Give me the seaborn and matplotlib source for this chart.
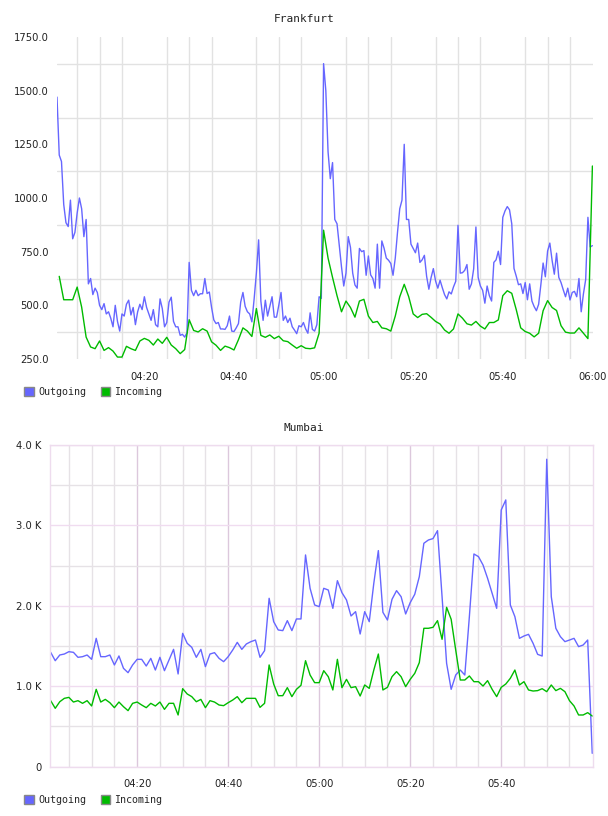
import pandas as pd
import matplotlib
matplotlib.use("Agg")
import matplotlib.pyplot as plt
import matplotlib.dates as mdates
from matplotlib.patches import Patch
from matplotlib.ticker import FixedLocator, NullFormatter
import seaborn as sns

# Frankfurt: outgoing every 30 s, incoming every minute
fra_out = [
    1470, 1200, 1170, 970, 885, 867, 990, 810, 840, 930, 1000, 950, 820, 900, 600, 625,
    550, 580, 560, 500, 480, 508, 460, 470, 440, 400, 500, 425, 380, 460, 450, 505,
    524, 455, 490, 410, 470, 505, 480, 540, 490, 460, 430, 480, 410, 400, 530, 485,
    400, 420, 515, 538, 425, 400, 400, 360, 365, 352, 372, 700, 570, 545, 570, 545,
    554, 554, 625, 555, 562, 490, 432, 415, 420, 390, 390, 388, 405, 450, 380, 378,
    395, 415, 515, 560, 495, 470, 460, 423, 530, 650, 805, 520, 430, 524, 450, 495,
    540, 445, 445, 500, 560, 430, 450, 420, 440, 400, 385, 368, 405, 400, 420, 390,
    370, 465, 388, 380, 410, 540, 532, 1626, 1500, 1215, 1090, 1165, 900, 880, 780, 679,
    590, 650, 820, 770, 650, 595, 580, 765, 750, 755, 640, 730, 642, 625, 580, 785,
    580, 800, 766, 720, 710, 695, 640, 720, 840, 950, 990, 1250, 900, 900, 785, 765,
    745, 790, 700, 712, 733, 635, 575, 630, 671, 613, 580, 617, 582, 550, 530, 563,
    553, 586, 612, 873, 650, 652, 663, 690, 575, 600, 670, 865, 630, 590, 570, 510,
    590, 545, 520, 700, 712, 752, 690, 910, 940, 960, 945, 880, 672, 636, 596, 600,
    555, 606, 526, 600, 520, 494, 475, 505, 597, 697, 633, 753, 790, 710, 645, 743,
    630, 606, 572, 540, 580, 525, 560, 565, 540, 625, 470, 554, 620, 910, 772, 778,
]
fra_in = [
    635, 526, 526, 526, 585, 492, 352, 306, 298, 334, 290, 303, 287, 259, 259, 309,
    298, 290, 334, 346, 337, 315, 343, 323, 351, 315, 298, 275, 294, 433, 383, 376,
    391, 380, 330, 314, 290, 310, 303, 292, 340, 395, 380, 355, 485, 360, 351, 362,
    345, 356, 335, 331, 315, 300, 312, 300, 298, 302, 370, 850, 720, 630, 545, 470,
    520, 490, 445, 520, 528, 450, 420, 425, 395, 391, 380, 450, 540, 598, 540, 460,
    443, 458, 461, 444, 425, 413, 385, 370, 390, 460, 440, 414, 408, 425, 403, 390,
    420, 420, 432, 545, 568, 556, 480, 395, 378, 370, 353, 370, 475, 522, 490, 476,
    405, 375, 371, 371, 395, 370, 345, 1149,
]

# Mumbai: both series every minute
mum_out = [
    1422, 1318, 1389, 1401, 1430, 1422, 1360, 1368, 1389, 1335, 1596, 1368, 1368, 1389, 1265, 1377,
    1223, 1169, 1265, 1335, 1335, 1252, 1347, 1202, 1360, 1194, 1327, 1459, 1153, 1658, 1534, 1484,
    1360, 1459, 1244, 1401, 1418, 1347, 1306, 1368, 1451, 1546, 1459, 1526, 1555, 1575, 1360, 1443,
    2094, 1803, 1700, 1692, 1816, 1692, 1837, 1837, 2633, 2218, 2011, 1990, 2218, 2197, 1969, 2313,
    2164, 2073, 1874, 1928, 1650, 1928, 1803, 2280, 2687, 1920, 1824, 2081, 2189, 2114, 1899, 2040,
    2144, 2363, 2778, 2819, 2836, 2935, 2114, 1285, 962, 1140, 1202, 1140, 1866, 2645, 2612, 2508,
    2343, 2156, 1969, 3192, 3317, 2011, 1866, 1596, 1625, 1646, 1534, 1397, 1376, 3823, 2114, 1721,
    1617, 1555, 1575, 1596, 1493, 1513, 1575, 166,
]
mum_in = [
    821, 726, 808, 850, 862, 804, 821, 788, 821, 755, 962, 804, 837, 796, 734, 804,
    746, 697, 788, 804, 767, 734, 788, 755, 804, 713, 788, 788, 643, 970, 904, 871,
    808, 837, 734, 821, 804, 767, 759, 796, 829, 871, 796, 850, 850, 850, 738, 788,
    1265, 1028, 883, 883, 983, 871, 962, 1012, 1318, 1140, 1045, 1045, 1194, 1119, 954, 1335,
    983, 1086, 983, 995, 879, 1016, 974, 1202, 1401, 954, 987, 1119, 1182, 1119, 995, 1086,
    1161, 1294, 1721, 1721, 1733, 1816, 1584, 1982, 1833, 1451, 1078, 1078, 1128, 1057, 1057, 1003,
    1070, 962, 871, 987, 1028, 1099, 1202, 1016, 1057, 954, 941, 946, 970, 933, 1016, 946,
    974, 933, 821, 755, 643, 643, 672, 630,
]

series_names = ["Outgoing", "Incoming"]
series_colors = {"Outgoing": "#6666ff", "Incoming": "#00bb00"}

fra_ticks = [250, 500, 750, 1000, 1250, 1500, 1750]
fra_tick_labels = ["250.0", "500.0", "750.0", "1000.0", "1250.0", "1500.0", "1750.0"]
mum_ticks = [0, 1000, 2000, 3000, 4000]
mum_tick_labels = ["0", "1.0 K", "2.0 K", "3.0 K", "4.0 K"]
fra_time_labels = ["04:20", "04:40", "05:00", "05:20", "05:40", "06:00"]
mum_time_labels = ["04:20", "04:40", "05:00", "05:20", "05:40"]

day = "2024-01-01 "


def frame(out_vals, in_vals, out_start, out_freq, in_start):
    a = pd.DataFrame({"time": pd.date_range(day + out_start, periods=len(out_vals), freq=out_freq),
                      "value": out_vals, "series": "Outgoing"})
    b = pd.DataFrame({"time": pd.date_range(day + in_start, periods=len(in_vals), freq="1min"),
                      "value": in_vals, "series": "Incoming"})
    return pd.concat([a, b], ignore_index=True)


fra = frame(fra_out, fra_in, "04:00:30", "30s", "04:01")
mum = frame(mum_out, mum_in, "04:01", "1min", "04:01")

sns.set_style("white")
plt.rcParams["font.family"] = ["DejaVu Sans"]

W, H = 608, 816
fig = plt.figure(figsize=(W / 100, H / 100), dpi=100)


def fig_rect(left, top, right, bottom):
    return [left / W, 1 - bottom / H, (right - left) / W, (bottom - top) / H]


mono = "DejaVu Sans Mono"
text_col = "#222222"


def tnum(s):
    return mdates.date2num(pd.Timestamp(day + s))


def five_minutes(start, end):
    return [mdates.date2num(t) for t in pd.date_range(day + start, day + end, freq="5min")]


def draw(ax, df):
    sns.lineplot(data=df, x="time", y="value", hue="series", hue_order=series_names,
                 palette=series_colors, linewidth=1.0, legend=False, ax=ax,
                 estimator=None, sort=False)
    ax.set_xlabel("")
    ax.set_ylabel("")
    ax.tick_params(length=0, labelsize=7.2, labelcolor=text_col)
    ax.tick_params(axis="x", pad=9)
    ax.tick_params(axis="y", pad=6)


def add_legend(y):
    handles = [Patch(facecolor=series_colors[n], edgecolor="#888888", linewidth=1) for n in series_names]
    fig.legend(handles, series_names, loc="center left", bbox_to_anchor=(24 / W, 1 - y / H),
               ncol=2, frameon=False, handlelength=0.95, handleheight=0.95, handletextpad=0.45,
               columnspacing=1.45, borderpad=0, borderaxespad=0,
               prop={"family": mono, "size": 7.2})


# ---- Frankfurt
ax1 = fig.add_axes(fig_rect(57, 37, 593, 359))
draw(ax1, fra)
ax1.set_xlim(tnum("04:00:30"), tnum("06:00:08"))
ax1.set_ylim(250, 1750)
ax1.xaxis.set_major_locator(FixedLocator([tnum(t) for t in fra_time_labels]))
ax1.set_xticklabels(fra_time_labels)
ax1.xaxis.set_minor_locator(FixedLocator(five_minutes("04:05", "06:00")))
ax1.set_yticks(fra_ticks)
ax1.set_yticklabels(fra_tick_labels)
ax1.yaxis.set_minor_locator(FixedLocator([t + 125 for t in fra_ticks[:-1]]))
ax1.xaxis.set_minor_formatter(NullFormatter())
ax1.tick_params(which="minor", length=0)
ax1.grid(False, which="major")
ax1.grid(True, which="minor", color="#e2e2e2", linewidth=1)
ax1.set_axisbelow(True)
for s in ax1.spines.values():
    s.set_visible(False)
fig.text(304 / W, 1 - 19 / H, "Frankfurt", ha="center", va="center", family=mono, size=8, color=text_col)
add_legend(392)

# ---- Mumbai
ax2 = fig.add_axes(fig_rect(50, 445, 593, 766.7))
draw(ax2, mum)
ax2.set_xlim(tnum("04:00:51"), tnum("06:00:10"))
ax2.set_ylim(0, 4000)
ax2.xaxis.set_major_locator(FixedLocator([tnum(t) for t in mum_time_labels]))
ax2.set_xticklabels(mum_time_labels)
ax2.xaxis.set_minor_locator(FixedLocator(five_minutes("04:05", "05:55")))
ax2.xaxis.set_minor_formatter(NullFormatter())
ax2.set_yticks(mum_ticks)
ax2.set_yticklabels(mum_tick_labels)
ax2.yaxis.set_minor_locator(FixedLocator([t + 500 for t in mum_ticks[:-1]]))
ax2.tick_params(which="minor", length=0)
ax2.grid(True, which="major", axis="x", color="#dcc8dc", linewidth=1)
ax2.grid(True, which="major", axis="y", color="#f0dcf0", linewidth=1)
ax2.grid(True, which="minor", color="#e6e2e6", linewidth=1)
ax2.set_axisbelow(True)
for s in ax2.spines.values():
    s.set_visible(True)
    s.set_color("#eedcee")
    s.set_linewidth(1)
fig.text(304 / W, 1 - 428 / H, "Mumbai", ha="center", va="center", family=mono, size=8, color=text_col)
add_legend(800)

fig.savefig("out.png", dpi=100)
